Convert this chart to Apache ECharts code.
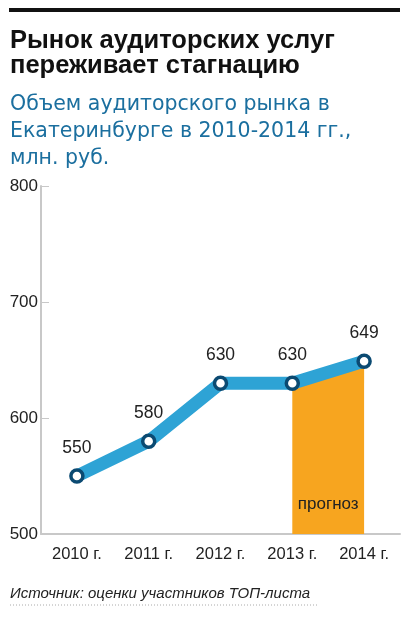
<!DOCTYPE html>
<html lang="ru">
<head>
<meta charset="UTF-8">
<title>Рынок аудиторских услуг</title>
<style>
body,html{width:100%;height:100%;margin:0;padding:0;background:#fff;}
#chart{width:414px;height:620px;}
</style>
</head>
<body>
<div id="chart"></div>
<script src="https://cdn.jsdelivr.net/npm/echarts@6/dist/echarts.min.js"></script>
<script>
var years = ['2010 г.', '2011 г.', '2012 г.', '2013 г.', '2014 г.'];
var volume = [550, 580, 630, 630, 649];
var forecast = [null, null, null, 630, 649];
var yTicks = [500, 600, 700, 800];

var font = '"Liberation Sans", Arial, sans-serif';
var wide = '"DejaVu Sans", sans-serif';
var chart = echarts.init(document.getElementById('chart'));

var option = {
	animation: false,
	grid: {left: 41, right: 14, top: 186, bottom: 86},
	graphic: [
		{type: 'rect', left: 9, top: 8, shape: {width: 391, height: 4}, style: {fill: '#111'}},
		{type: 'text', left: 10, top: 28, style: {
			text: 'Рынок аудиторских услуг\nпереживает стагнацию',
			font: 'bold 25.5px ' + font, fill: '#111', lineHeight: 25}},
		{type: 'text', left: 10, top: 91, style: {
			text: 'Объем аудиторского рынка в\nЕкатеринбурге в 2010-2014 гг.,\nмлн. руб.',
			font: '20.5px ' + wide, fill: '#1b6f9f', lineHeight: 27}},
		{type: 'text', left: 10, top: 586, style: {
			text: 'Источник: оценки участников ТОП-листа',
			font: 'italic 15px ' + font, fill: '#222'}},
		{type: 'line', shape: {x1: 10, y1: 605, x2: 318, y2: 605},
			style: {stroke: '#aaa', lineWidth: 1, lineDash: [1, 2]}}
	],
	xAxis: {
		type: 'category',
		data: years,
		boundaryGap: true,
		axisLine: {lineStyle: {color: '#c8c8c8', width: 2}},
		axisTick: {inside: true, length: 8, lineStyle: {color: '#c8c8c8', width: 1}},
		axisLabel: {color: '#222', fontSize: 16.5, fontFamily: font, margin: 12}
	},
	yAxis: {
		type: 'value',
		min: yTicks[0],
		max: yTicks[yTicks.length - 1],
		interval: 100,
		splitLine: {show: false},
		axisLine: {show: true, lineStyle: {color: '#c8c8c8', width: 2}},
		axisTick: {show: true, inside: true, length: 8, lineStyle: {color: '#c8c8c8'}},
		axisLabel: {color: '#222', fontSize: 17, fontFamily: font, margin: 3}
	},
	series: [
		{
			type: 'line',
			data: forecast,
			symbol: 'none',
			lineStyle: {width: 0, opacity: 0},
			areaStyle: {color: '#f7a51f', opacity: 1},
			z: 1
		},
		{
			type: 'line',
			data: volume,
			symbol: 'circle',
			symbolSize: 12,
			lineStyle: {color: '#2ea3d5', width: 13, cap: 'butt', join: 'miter'},
			itemStyle: {color: '#fff', borderColor: '#0b4a72', borderWidth: 3.5},
			label: {show: true, position: 'top', distance: 11, color: '#222', fontSize: 17.5, fontFamily: font},
			z: 3
		}
	]
};
chart.setOption(option);

// подпись "прогноз" внутри оранжевой области
var p1 = chart.convertToPixel({gridIndex: 0}, [years[3], yTicks[0]]);
var p2 = chart.convertToPixel({gridIndex: 0}, [years[4], yTicks[0]]);
if (p1 && p2) {
	chart.setOption({
		graphic: option.graphic.concat([{
			type: 'text', x: (p1[0] + p2[0]) / 2, y: p1[1] - 30, z: 10,
			style: {text: 'прогноз', font: '17px ' + font, fill: '#222', align: 'center', verticalAlign: 'middle'}
		}])
	});
}
</script>
</body>
</html>
